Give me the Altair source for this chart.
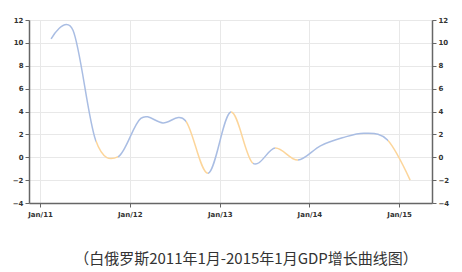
import altair as alt
import pandas as pd

dates = ["2011-02-15", "2011-05-15", "2011-08-15", "2011-11-15",
         "2012-02-15", "2012-05-15", "2012-08-15", "2012-11-15",
         "2013-02-15", "2013-05-15", "2013-08-15", "2013-11-15",
         "2014-02-15", "2014-05-15", "2014-08-15", "2014-11-15",
         "2015-02-15"]
gdp = [10.35, 11.1, 1.5, 0.05, 3.4, 3.0, 3.2, -1.4, 3.95, -0.5,
       0.8, -0.25, 1.0, 1.7, 2.1, 1.5, -2.0]
# segment colour flag (1 = orange segment between point i and i+1)
seg_flag = [0, 0, 1, 0, 0, 0, 1, 0, 1, 0, 1, 0, 0, 0, 0, 1]
caption = "（白俄罗斯2011年1月-2015年1月GDP增长曲线图）"
year_ticks = ["2011-01-01", "2012-01-01", "2013-01-01", "2014-01-01", "2015-01-01"]

BLUE = "#a9bde3"
ORANGE = "#fcd59a"

df = pd.DataFrame({"date": pd.to_datetime(dates), "gdp": gdp})

n = len(seg_flag)
stops = []
for i, f in enumerate(seg_flag):
    c = ORANGE if f else BLUE
    stops.append(alt.GradientStop(offset=i / n, color=c))
    stops.append(alt.GradientStop(offset=(i + 1) / n, color=c))

grad = alt.LinearGradient(gradient="linear", stops=stops, x1=0, x2=1, y1=0, y2=0)

xscale = alt.Scale(domain=[alt.DateTime(year=2010, month=11, date=17),
                           alt.DateTime(year=2015, month=5, date=15)])
yscale = alt.Scale(domain=[-4, 12])

axis_common = dict(domainColor="#666", domainWidth=1.5, tickColor="#666",
                   tickSize=4, labelColor="#333", labelFont="DejaVu Sans",
                   labelFontSize=7, labelFontWeight="bold", title=None,
                   gridColor="#e8e8e8")

x_vals = [alt.DateTime(year=int(d[:4]), month=1, date=1) for d in year_ticks]
xaxis = alt.Axis(format="%b/%y", values=x_vals, labelPadding=3,
                 grid=True, **axis_common)

line = alt.Chart(df).mark_line(
    interpolate="cardinal", strokeWidth=1.5, color=grad
).encode(
    x=alt.X("date:T", scale=xscale, axis=xaxis),
    y=alt.Y("gdp:Q", scale=yscale,
            axis=alt.Axis(values=list(range(-4, 13, 2)), grid=True,
                          labelPadding=2, **axis_common)),
)

right = alt.Chart(df).mark_line(opacity=0).encode(
    x=alt.X("date:T", scale=xscale, axis=xaxis),
    y=alt.Y("gdp:Q", scale=yscale,
            axis=alt.Axis(orient="right", values=list(range(-4, 13, 2)),
                          grid=False, labelPadding=2, **axis_common)),
)

cap = alt.Chart(pd.DataFrame({"t": [caption]})).mark_text(
    font="Noto Sans CJK SC", fontSize=15, color="#333", align="center",
    baseline="middle"
).encode(text="t:N", x=alt.value(217), y=alt.value(239))

chart = alt.layer(line, right, cap).resolve_scale(y="independent").properties(
    width=403, height=183,
    padding={"left": 29, "top": 20, "right": 30, "bottom": 69},
    autosize=alt.AutoSizeParams(type="none"),
).configure_view(stroke=None).configure(background="white")

chart.save("out.html", embed_options={"renderer": "svg", "actions": False})
